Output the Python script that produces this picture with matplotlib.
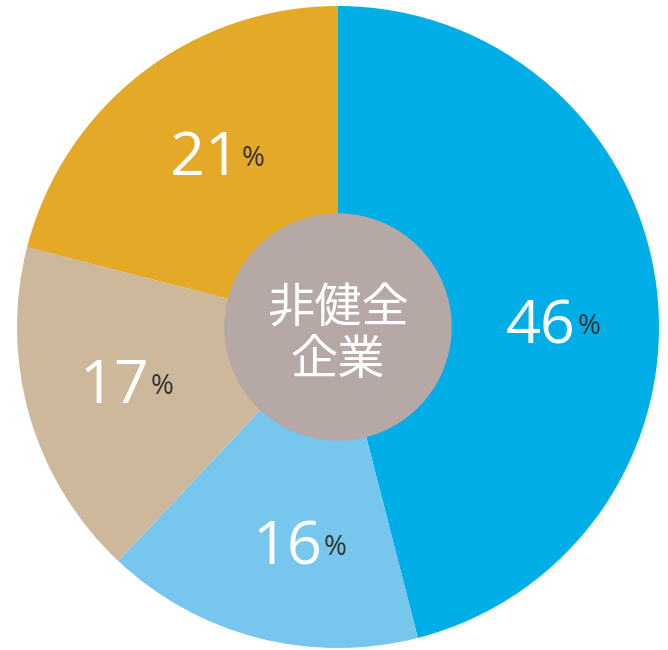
import matplotlib.pyplot as plt
import numpy as np

# data
labels = ['46', '16', '17', '21']
values = [46, 16, 17, 21]
colors = ['#00aee7', '#76c6ee', '#cdb89b', '#e4a927']
center_text = '非健全\n企業'

# small nudges (points) for each label, from the mid-angle anchor
nudge = [(-12, -20), (3, -5), (-8, 1.5), (2, -5)]

fig = plt.figure(figsize=(6.68, 6.5), dpi=100)
ax = fig.add_axes([0, 0, 1, 1])

wedges, _ = ax.pie(values, colors=colors, startangle=90, counterclock=False,
                   radius=1.0, wedgeprops=dict(linewidth=0))
ax.add_patch(plt.Circle((0, 0), 0.352, color='#b5a8a5', zorder=3))
ax.text(0, -0.025, center_text, ha='center', va='center', color='white',
        fontsize=34, family=['Noto Sans CJK JP', 'DejaVu Sans'],
        linespacing=1.1, zorder=4)

# percent labels
for w, lab, nd in zip(wedges, labels, nudge):
    ang = np.deg2rad((w.theta1 + w.theta2) / 2.0)
    x, y = 0.69 * np.cos(ang), 0.69 * np.sin(ang)
    num = ax.annotate(lab, xy=(x, y), xytext=nd, textcoords='offset points',
                      ha='center', va='center', color='white', fontsize=44,
                      family='Open Sans', fontweight='normal', zorder=5)
    ax.annotate('%', xy=(1, 0.5), xycoords=num, xytext=(1, 0),
                textcoords='offset points', ha='left', va='center',
                color='#333333', fontsize=20, family='Open Sans', zorder=5)

ax.set_aspect('auto')
ax.set_xlim(-338 / 321.0, 330 / 321.0)
ax.set_ylim(-323 / 321.0, 327 / 321.0)
ax.axis('off')

plt.savefig('out.png', dpi=100)
